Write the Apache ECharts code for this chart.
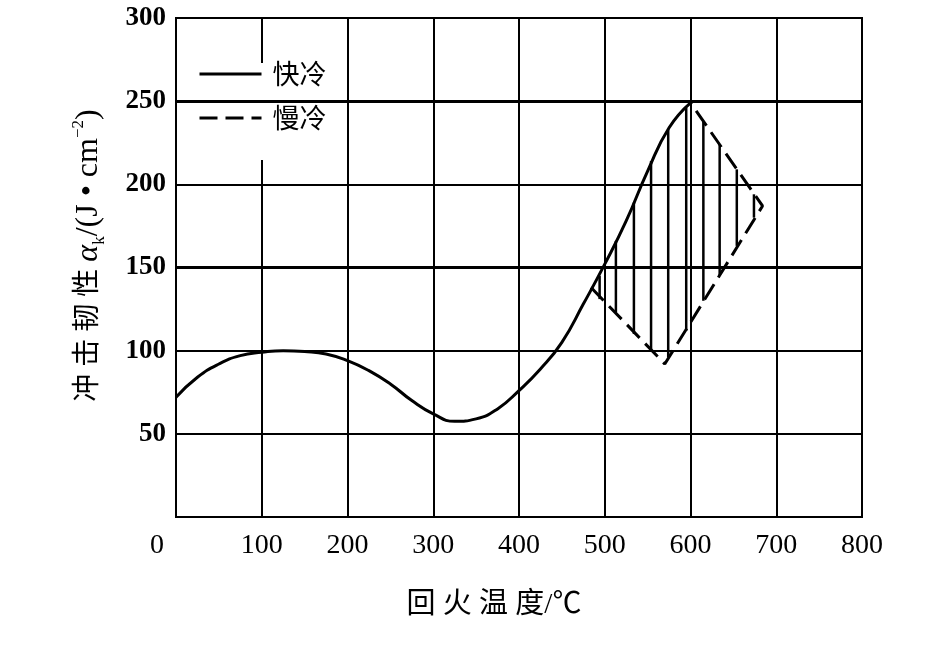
<!DOCTYPE html>
<html lang="zh">
<head>
    <meta charset="UTF-8"/>
    <title>回火温度与冲击韧性</title>
    <style>
        html, body {
            margin: 0;
            padding: 0;
            width: 100vw;
            height: 100vh;
            background: #ffffff;
            overflow: hidden;
        }

        #chart {
            width: 946px;
            height: 671px;
        }
    </style>
</head>
<body>
<div id="chart"></div>
<script src="https://cdn.jsdelivr.net/npm/echarts@6/dist/echarts.min.js"></script>
<script>
    const chart = echarts.init(document.getElementById('chart'));

    // 快冷 curve (temperature, toughness)
    const fastTemp = [0, 25, 50, 75, 100, 125, 150, 175, 200, 225, 250, 275, 300, 325, 350, 375, 400, 425, 450, 475, 500, 525, 550, 575, 600];
    const fastValue = [72, 84, 92, 97, 99, 100, 99.5, 98, 94, 88, 80, 70, 62, 57.5, 59, 65, 76, 89, 105, 128, 152, 178, 208, 234, 249];

    // 慢冷 dashed outline
    const slowTemp = [484, 570, 684, 600];
    const slowValue = [138, 92, 187, 249];

    // vertical hatching between the two
    const hatchTemp = [494, 513, 534, 554, 574, 595, 615, 634, 654, 674];
    const hatchTop = [145, 166, 189, 214, 233, 246, 238, 224, 209, 194];
    const hatchBottom = [131, 123, 110, 100, 96, 112, 130, 145, 163, 180];

    const heavyLines = [150, 250];

    const serif = '"Liberation Serif", "Noto Sans CJK SC", serif';
    const cjk = '"Noto Sans CJK SC", "Liberation Serif", sans-serif';

    const zip = (xs, ys) => xs.map((x, i) => [x, ys[i]]);

    const option = {
        backgroundColor: '#ffffff',
        animation: false,
        grid: {
            left: 176,
            right: 84,
            top: 18,
            bottom: 154,
            show: true,
            borderColor: '#000',
            borderWidth: 2
        },
        legend: {
            orient: 'vertical',
            left: 198,
            top: 59,
            padding: 0,
            itemGap: 14,
            itemWidth: 62,
            itemHeight: 14,
            selectedMode: false,
            data: ['快冷', '慢冷'],
            itemStyle: {opacity: 0},
            lineStyle: {width: 3},
            textStyle: {
                color: '#000',
                fontFamily: cjk,
                fontSize: 27,
                lineHeight: 30,
                padding: [0, 0, 0, 6]
            }
        },
        xAxis: {
            type: 'value',
            min: 0,
            max: 800,
            interval: 100,
            name: '回 火 温 度/℃',
            nameLocation: 'middle',
            nameGap: 74,
            nameTextStyle: {color: '#000', fontFamily: serif, fontSize: 29, padding: [0, 50, 0, 0]},
            axisLine: {show: true, onZero: false, lineStyle: {color: '#000', width: 2}},
            axisTick: {show: false},
            axisLabel: {
                color: '#000',
                fontFamily: serif,
                fontSize: 28,
                margin: 15,
                formatter: v => v === 0 ? '{z|0}' : String(v),
                rich: {z: {fontFamily: serif, fontSize: 28, padding: [0, 38, 0, 0]}}
            },
            splitLine: {show: true, lineStyle: {color: '#000', width: 2}}
        },
        yAxis: {
            type: 'value',
            min: 0,
            max: 300,
            interval: 50,
            name: '{c|冲 击 韧 性 }{a|α}{s|k}/(J • cm{p|−2})',
            nameLocation: 'middle',
            nameGap: 68,
            nameTextStyle: {
                color: '#000',
                fontFamily: serif,
                fontSize: 32,
                lineHeight: 38,
                padding: [0, 0, 0, 24],
                rich: {
                    c: {fontFamily: serif, fontSize: 28, lineHeight: 38},
                    a: {fontFamily: serif, fontStyle: 'italic', fontSize: 32, lineHeight: 38},
                    s: {fontFamily: serif, fontSize: 17, verticalAlign: 'bottom', lineHeight: 38},
                    p: {fontFamily: serif, fontSize: 17, verticalAlign: 'top', lineHeight: 38}
                }
            },
            axisLine: {show: true, lineStyle: {color: '#000', width: 2}},
            axisTick: {show: false},
            axisLabel: {
                color: '#000',
                fontFamily: serif,
                fontWeight: 'bold',
                fontSize: 27,
                margin: 10,
                formatter: v => v === 0 ? '' : String(v)
            },
            splitLine: {show: true, lineStyle: {color: '#000', width: 2}}
        },
        graphic: [
            {
                // white legend box cutting the grid lines
                type: 'rect',
                z: 3,
                shape: {x: 253, y: 63, width: 15, height: 97},
                style: {fill: '#ffffff'}
            }
        ],
        series: [
            {
                name: '快冷',
                type: 'line',
                smooth: 0.5,
                symbol: 'none',
                itemStyle: {color: '#000'},
                lineStyle: {color: '#000', width: 3},
                data: zip(fastTemp, fastValue),
                markLine: {
                    silent: true,
                    symbol: 'none',
                    label: {show: false},
                    lineStyle: {color: '#000', width: 3, type: 'solid'},
                    data: heavyLines.map(v => ({yAxis: v}))
                }
            },
            {
                name: '慢冷',
                type: 'line',
                symbol: 'none',
                itemStyle: {color: '#000'},
                lineStyle: {color: '#000', width: 3, type: [18, 8]},
                data: zip(slowTemp, slowValue)
            },
            {
                type: 'custom',
                renderItem: (params, api) => {
                    const p1 = api.coord([api.value(0), api.value(1)]);
                    const p2 = api.coord([api.value(0), api.value(2)]);
                    return {
                        type: 'line',
                        shape: {x1: p1[0], y1: p1[1], x2: p2[0], y2: p2[1]},
                        style: {stroke: '#000', lineWidth: 2.5}
                    };
                },
                encode: {x: 0, y: [1, 2]},
                data: hatchTemp.map((t, i) => [t, hatchTop[i], hatchBottom[i]])
            }
        ]
    };

    chart.setOption(option);
</script>
</body>
</html>
